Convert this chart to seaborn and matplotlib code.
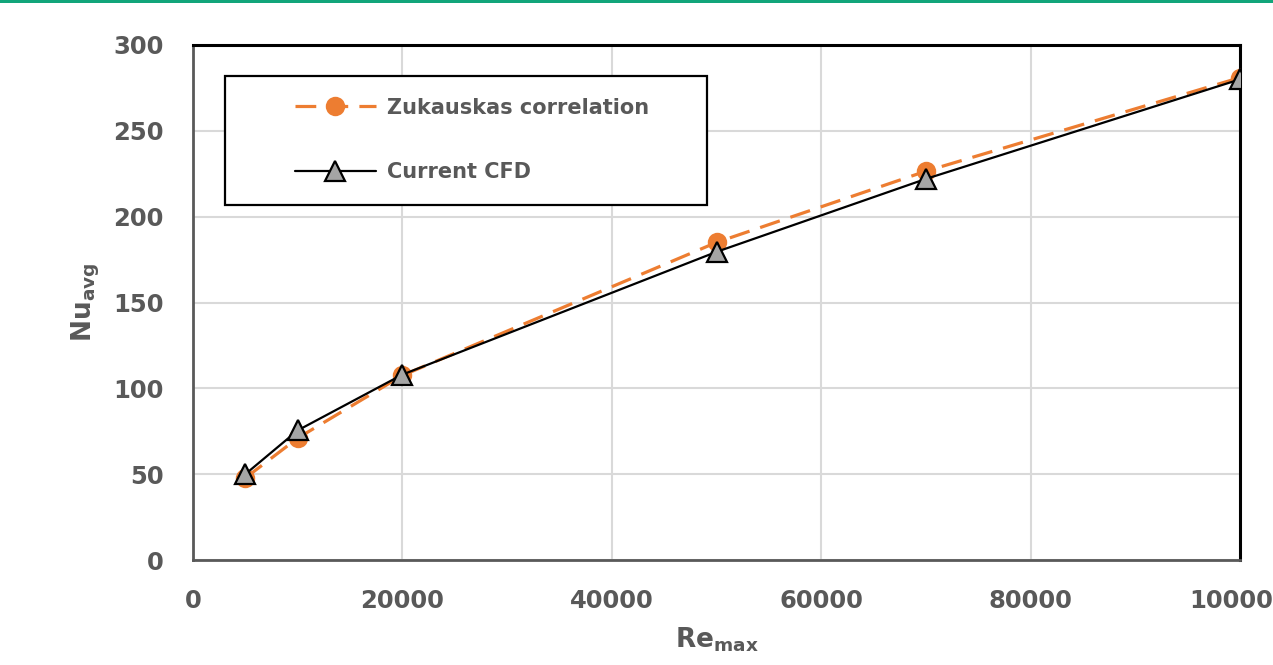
import matplotlib
matplotlib.use("Agg")
import matplotlib.pyplot as plt
import seaborn as sns
from matplotlib.patches import Rectangle

# Reynolds numbers and average Nusselt numbers
re_max = [5000, 10000, 20000, 50000, 70000, 100000]
nu_zukauskas = [47.8, 71.0, 107.5, 185.0, 226.5, 281.0]
nu_cfd = [50.0, 75.5, 108.0, 179.5, 222.0, 280.0]

x_ticks = [0, 20000, 40000, 60000, 80000, 100000]
y_ticks = [0, 50, 100, 150, 200, 250, 300]

series_names = ["Zukauskas correlation", "Current CFD"]

sns.set_style("white")
plt.rcParams["font.family"] = ["DejaVu Sans"]
plt.rcParams["mathtext.fontset"] = "dejavusans"

TEXT = "#595959"
ORANGE = "#ED7D31"

fig = plt.figure(figsize=(12.73, 6.65), dpi=100)
ax = fig.add_axes([193 / 1273, 105 / 665, 1047 / 1273, 515 / 665])

sns.lineplot(x=re_max, y=nu_zukauskas, ax=ax, color=ORANGE, lw=2.3,
             marker="o", markersize=14, markeredgecolor=ORANGE,
             markeredgewidth=0, dashes=False, label=series_names[0], zorder=3)
ax.lines[-1].set_dashes([6.5, 3.5])
sns.lineplot(x=re_max, y=nu_cfd, ax=ax, color="black", lw=1.6,
             marker="^", markersize=14.5, markerfacecolor="#A5A5A5",
             markeredgecolor="black", markeredgewidth=1.6,
             label=series_names[1], zorder=4)

ax.set_xlim(0, 100000)
ax.set_ylim(0, 300)
ax.set_xticks(x_ticks)
ax.set_yticks(y_ticks)
ax.set_xticklabels([str(v) for v in x_ticks])
ax.set_yticklabels([str(v) for v in y_ticks])
ax.tick_params(length=0, labelsize=17.5, labelcolor=TEXT, pad=21)
for lbl in ax.get_xticklabels() + ax.get_yticklabels():
    lbl.set_fontweight("bold")

ax.grid(True, color="#D9D9D9", lw=1.5)
ax.set_axisbelow(True)

for side in ("left", "bottom"):
    ax.spines[side].set_color("#595959")
    ax.spines[side].set_linewidth(2.0)
for side in ("top", "right"):
    ax.spines[side].set_color("black")
    ax.spines[side].set_linewidth(2.2)

ax.set_xlabel(r"$\mathbf{Re_{max}}$", fontsize=19, color=TEXT, labelpad=9)
ax.set_ylabel(r"$\mathbf{Nu_{avg}}$", fontsize=19, color=TEXT, labelpad=8)

# Legend box
ax.add_patch(Rectangle((32 / 1047, 355 / 515), 482 / 1047, 129 / 515,
                       transform=ax.transAxes, fill=True, facecolor="white",
                       edgecolor="black", lw=1.6, zorder=5))
leg = ax.legend(loc="upper left", bbox_to_anchor=(85 / 1047, 1 - 36 / 515),
                frameon=False, fontsize=15, labelcolor=TEXT,
                handlelength=3.9, handletextpad=0.55, labelspacing=2.15,
                borderpad=0.3, numpoints=1)
leg.set_zorder(6)
for t in leg.get_texts():
    t.set_fontweight("bold")

# Accent strip along the top edge
fig.add_artist(Rectangle((0, 1 - 3 / 665), 1, 3 / 665, transform=fig.transFigure,
                         facecolor="#12A57A", edgecolor="none"))

fig.savefig("out.png", dpi=100)
